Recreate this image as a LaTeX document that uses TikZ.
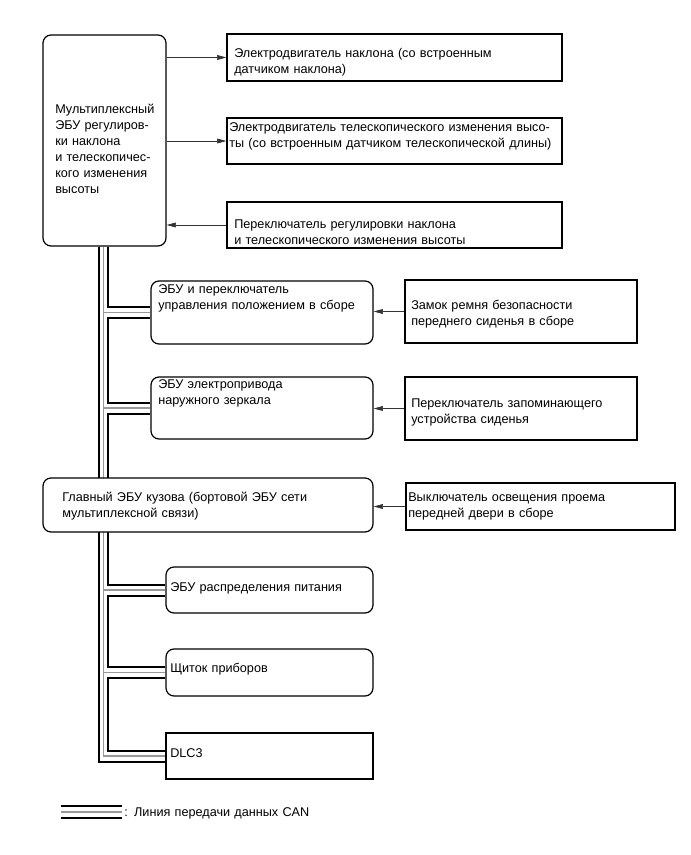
\documentclass[tikz,border=0pt]{standalone}
\usepackage{fontspec}
\setmainfont{Liberation Sans}
\usetikzlibrary{arrows.meta, calc, fit, backgrounds, math}

\tikzset{
 ecu/.style={draw, line width=0.9pt, rounded corners=6pt, fill=white, inner sep=0pt},
 part/.style={draw, line width=0.9pt, fill=white, inner sep=0pt},
 txt/.style={anchor=base west, inner sep=0pt, text width=9cm, align=left, font=\fontsize{9.5}{12}\selectfont},
 sig/.style={-{Triangle[length=7pt,width=3.6pt]}, line width=0.5pt, color=black!80},
 canblk/.style={line width=1.5pt, color=black},
 cangry/.style={line width=1.1pt, color=black!40},
}

\begin{document}
\begin{tikzpicture}[x=0.75pt, y=-0.75pt]
\tikzmath{
\g=5.5;
}
\useasboundingbox (0,0) rectangle (691,855);

 %bus lines:
 \coordinate (busL) at (99,0);
 \coordinate (busM) at (103.5,0);
 \coordinate (busR) at (108,0);

 %boxes:
 \node[ecu, fit={(43,35) (166,246)}] (tilt) {};
 \node[part, fit={(227,34) (562,81)}] (tiltmotor) {};
 \node[part, fit={(227,118) (562,164)}] (telemotor) {};
 \node[part, fit={(227,202) (562,248)}] (tiltsw) {};
 \node[ecu, fit={(151,281) (373,344)}] (posecu) {};
 \node[ecu, fit={(151,377) (373,439)}] (mirrorecu) {};
 \node[part, fit={(405,280) (637,343)}] (buckle) {};
 \node[part, fit={(405,377) (637,440)}] (memsw) {};
 \node[ecu, fit={(43,478) (373,532)}] (bodyecu) {};
 \node[part, fit={(406,483) (675,530)}] (doorsw) {};
 \node[ecu, fit={(166,567) (373,613)}] (powerecu) {};
 \node[ecu, fit={(166,649) (373,696)}] (meter) {};
 \node[part, fit={(166,733) (373,779)}] (dlc) {};

 %texts:
 \node[txt] (tilt-t) at (55,113.5) {Мультиплексный\\ЭБУ регулиров-\\ки наклона\\и телескопичес-\\кого изменения\\высоты};
 \node[txt] (tiltmotor-t) at (234,57.5) {Электродвигатель наклона (со встроенным\\датчиком наклона)};
 \node[txt] (telemotor-t) at (229,131.5) {Электродвигатель телескопического изменения высо-\\ты (со встроенным датчиком телескопической длины)};
 \node[txt] (tiltsw-t) at (234,228.5) {Переключатель регулировки наклона\\и телескопического изменения высоты};
 \node[txt] (posecu-t) at (158,293.5) {ЭБУ и переключатель\\управления положением в сборе};
 \node[txt] (mirrorecu-t) at (158,388.5) {ЭБУ электропривода\\наружного зеркала};
 \node[txt] (buckle-t) at (411,309.5) {Замок ремня безопасности\\переднего сиденья в сборе};
 \node[txt] (memsw-t) at (411,407.5) {Переключатель запоминающего\\устройства сиденья};
 \node[txt] (bodyecu-t) at (62,501.5) {Главный ЭБУ кузова (бортовой ЭБУ сети\\мультиплексной связи)};
 \node[txt] (doorsw-t) at (408,501.5) {Выключатель освещения проема\\передней двери в сборе};
 \node[txt] (powerecu-t) at (170,591.5) {ЭБУ распределения питания};
 \node[txt] (meter-t) at (170,672.5) {Щиток приборов};
 \node[txt] (dlc-t) at (170,757.5) {DLC3};

 %signals:
 \draw[sig] (tilt.east |- tiltmotor.west) -- (tiltmotor.west);
 \draw[sig] (tilt.east |- telemotor.west) -- (telemotor.west);
 \draw[sig] (tiltsw.west) -- (tiltsw.west -| tilt.east);
 \draw[sig] (buckle.west) -- (buckle.west -| posecu.east);
 \draw[sig] (memsw.west) -- (memsw.west -| mirrorecu.east);
 \draw[sig] (doorsw.west) -- (doorsw.west -| bodyecu.east);

 %CAN bus:
 \begin{pgfonlayer}{background}
 \draw[canblk] (tilt.south -| busL) |- ($(dlc.west)+(0,\g)$);
 \draw[cangry] (tilt.south -| busM) |- (dlc.west);
 \foreach \n in {posecu, mirrorecu, powerecu, meter}
  \draw[cangry] (\n.west -| busM) -- (\n.west);
 \draw[canblk] (tilt.south -| busR) |- ($(posecu.west)+(0,-\g)$);
 \foreach \a/\b in {posecu/mirrorecu, mirrorecu/powerecu, powerecu/meter, meter/dlc}
  \draw[canblk] ($(\a.west)+(0,\g)$) -| ($(\b.west -| busR)+(0,-\g)$) -- ($(\b.west)+(0,-\g)$);
 \end{pgfonlayer}

 %legend:
 \coordinate (leg) at (61,812);
 \draw[canblk] ($(leg)+(0,-6)$) -- ++(61,0);
 \draw[cangry] (leg) -- ++(61,0);
 \draw[canblk] ($(leg)+(0,6)$) -- ++(61,0);
 \node[txt] (leg-t) at (124,816.5) {: Линия передачи данных CAN};
\end{tikzpicture}
\end{document}
